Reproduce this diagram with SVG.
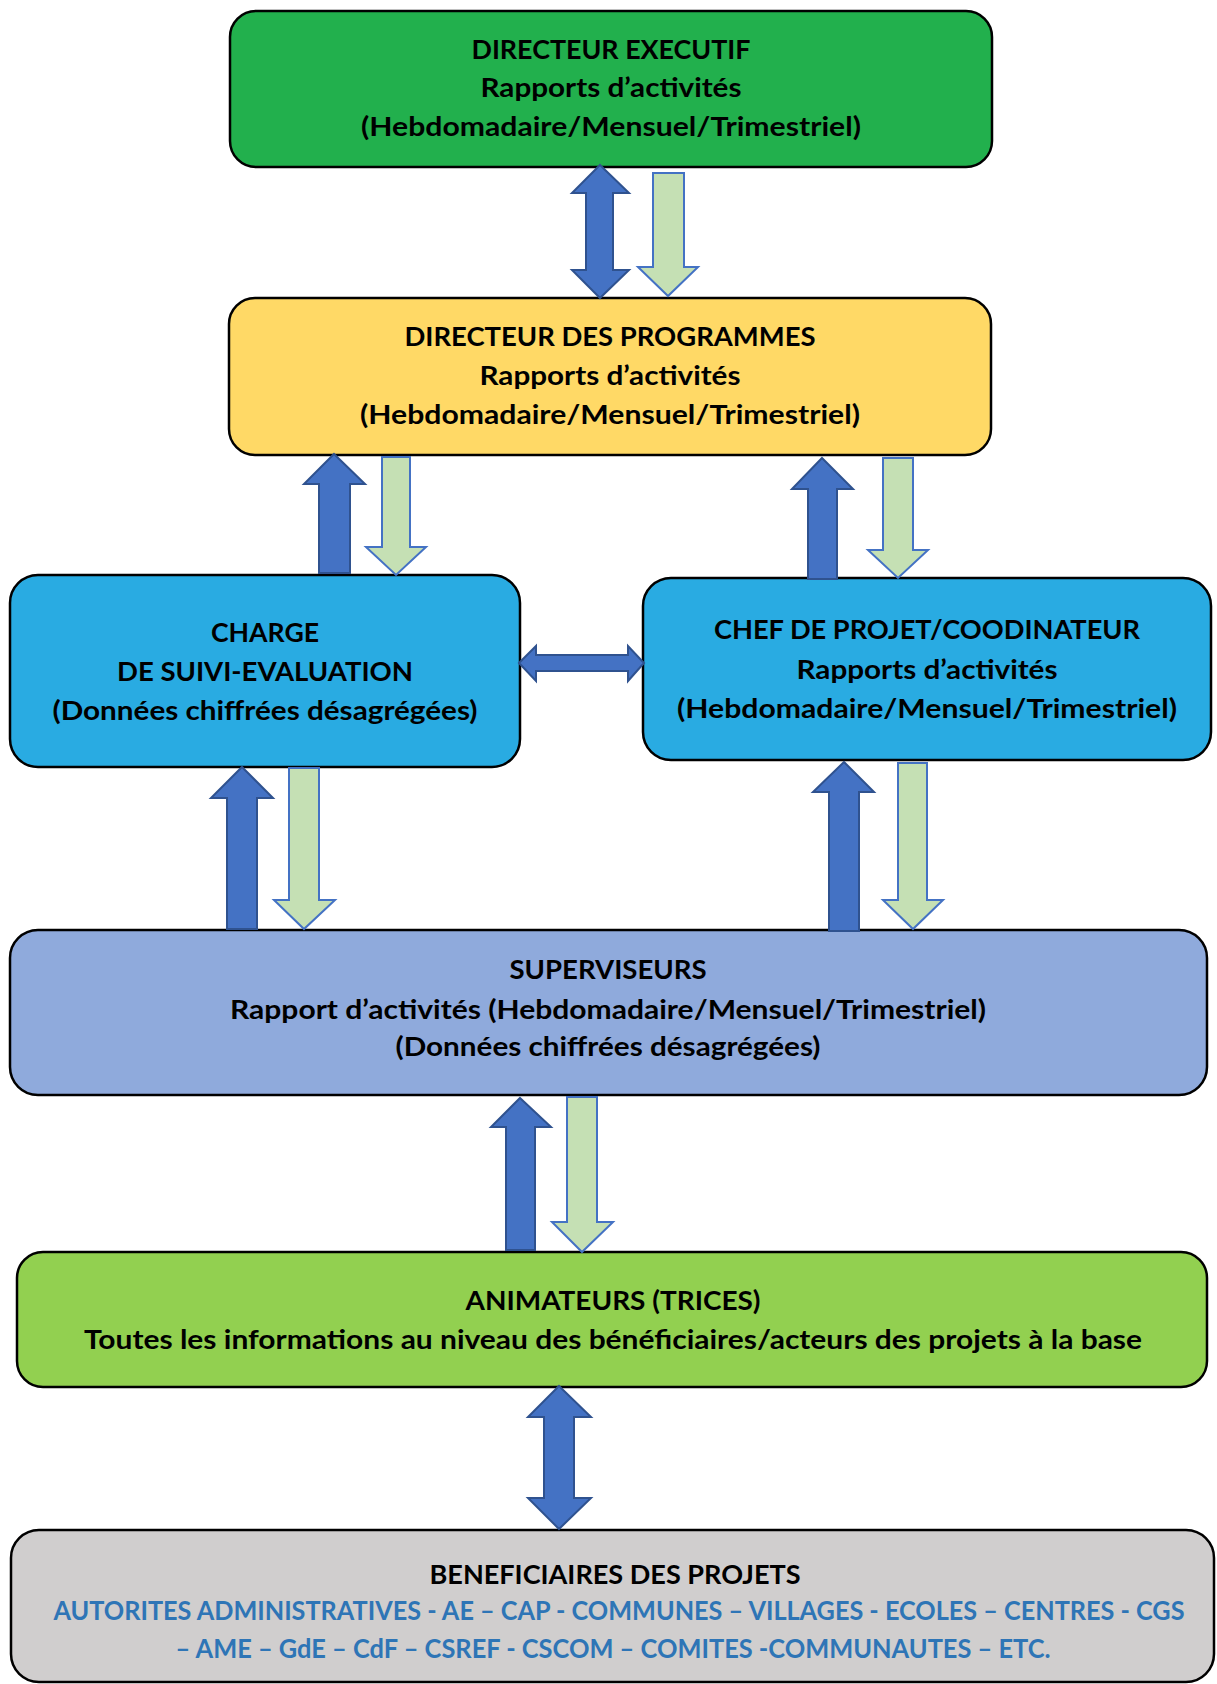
<svg xmlns="http://www.w3.org/2000/svg" width="1217" height="1684" viewBox="0 0 1217 1684">
<style>
.box{stroke:#000;stroke-width:2.5}
.t{font-family:Lato,"Open Sans","Liberation Sans",sans-serif;font-weight:bold;font-size:26.5px;fill:#000;text-anchor:middle}
.b{fill:#2E75B6}
.up{fill:#4472C4;stroke:#2F528F;stroke-width:2;stroke-linejoin:miter}
.dn{fill:#C5E0B4;stroke:#4472C4;stroke-width:2;stroke-linejoin:miter}
</style>
<rect width="1217" height="1684" fill="#fff"/>
<g id="directeur-executif">
<rect class="box" x="230" y="11" width="762" height="156" rx="26" fill="#22B04D"/>
<text class="t" x="611" y="59" textLength="279" lengthAdjust="spacingAndGlyphs">DIRECTEUR EXECUTIF</text>
<text class="t" x="611" y="97" textLength="261" lengthAdjust="spacingAndGlyphs">Rapports d’activités</text>
<text class="t" x="611" y="136" textLength="500" lengthAdjust="spacingAndGlyphs">(Hebdomadaire/Mensuel/Trimestriel)</text>
</g>
<g id="directeur-programmes">
<rect class="box" x="229" y="298" width="762" height="157" rx="26" fill="#FFD966"/>
<text class="t" x="610" y="346" textLength="411" lengthAdjust="spacingAndGlyphs">DIRECTEUR DES PROGRAMMES</text>
<text class="t" x="610" y="385" textLength="261" lengthAdjust="spacingAndGlyphs">Rapports d’activités</text>
<text class="t" x="610" y="424" textLength="500" lengthAdjust="spacingAndGlyphs">(Hebdomadaire/Mensuel/Trimestriel)</text>
</g>
<g id="charge-suivi-evaluation">
<rect class="box" x="10" y="575" width="510" height="192" rx="28" fill="#29ABE2"/>
<text class="t" x="265" y="642" textLength="108" lengthAdjust="spacingAndGlyphs">CHARGE</text>
<text class="t" x="265" y="681" textLength="296" lengthAdjust="spacingAndGlyphs">DE SUIVI-EVALUATION</text>
<text class="t" x="265" y="720" textLength="425" lengthAdjust="spacingAndGlyphs">(Données chiffrées désagrégées)</text>
</g>
<g id="chef-de-projet">
<rect class="box" x="643" y="578" width="568" height="182" rx="28" fill="#29ABE2"/>
<text class="t" x="927" y="639" textLength="426" lengthAdjust="spacingAndGlyphs">CHEF DE PROJET/COODINATEUR</text>
<text class="t" x="927" y="679" textLength="261" lengthAdjust="spacingAndGlyphs">Rapports d’activités</text>
<text class="t" x="927" y="718" textLength="500" lengthAdjust="spacingAndGlyphs">(Hebdomadaire/Mensuel/Trimestriel)</text>
</g>
<g id="superviseurs">
<rect class="box" x="10" y="930" width="1197" height="165" rx="28" fill="#8FAADC"/>
<text class="t" x="608" y="979" textLength="197" lengthAdjust="spacingAndGlyphs">SUPERVISEURS</text>
<text class="t" x="608" y="1019" textLength="756" lengthAdjust="spacingAndGlyphs">Rapport d’activités (Hebdomadaire/Mensuel/Trimestriel)</text>
<text class="t" x="608" y="1056" textLength="425" lengthAdjust="spacingAndGlyphs">(Données chiffrées désagrégées)</text>
</g>
<g id="animateurs">
<rect class="box" x="17" y="1252" width="1190" height="135" rx="26" fill="#92D050"/>
<text class="t" x="613" y="1310" textLength="295" lengthAdjust="spacingAndGlyphs">ANIMATEURS (TRICES)</text>
<text class="t" x="613" y="1349" textLength="1058" lengthAdjust="spacingAndGlyphs">Toutes les informations au niveau des bénéficiaires/acteurs des projets à la base</text>
</g>
<g id="beneficiaires">
<rect class="box" x="11" y="1530" width="1203" height="152" rx="28" fill="#D0CECE"/>
<text class="t" x="615" y="1584" textLength="371" lengthAdjust="spacingAndGlyphs">BENEFICIAIRES DES PROJETS</text>
<text class="t b" x="619" y="1620" textLength="1131" lengthAdjust="spacingAndGlyphs">AUTORITES ADMINISTRATIVES - AE – CAP - COMMUNES – VILLAGES - ECOLES – CENTRES - CGS</text>
<text class="t b" x="613" y="1658" textLength="875" lengthAdjust="spacingAndGlyphs">– AME – GdE – CdF – CSREF - CSCOM – COMITES -COMMUNAUTES – ETC.</text>
</g>
<g id="connectors">
<polygon class="up" points="600,165 629,193 613,193 613,270 629,270 600,298 572,270 586,270 586,193 572,193"/>
<polygon class="dn" points="653,173 684,173 684,267 698,267 668,296 638,267 653,267"/>
<polygon class="up" points="334,454 365,484 350,484 350,573 319,573 319,484 304,484"/>
<polygon class="dn" points="382,457 410,457 410,547 426,547 396,575 366,547 382,547"/>
<polygon class="up" points="822,458 853,489 837,489 837,579 808,579 808,489 792,489"/>
<polygon class="dn" points="883,458 913,458 913,550 928,550 898,578 868,550 883,550"/>
<polygon class="up" points="519,663 536,646 536,655 628,655 628,646 644,663 628,681 628,671 536,671 536,681"/>
<polygon class="up" points="242,767 273,798 257,798 257,929 227,929 227,798 211,798"/>
<polygon class="dn" points="289,768 319,768 319,900 335,900 304,929 274,900 289,900"/>
<polygon class="up" points="844,762 874,792 859,792 859,931 829,931 829,792 813,792"/>
<polygon class="dn" points="898,763 927,763 927,900 943,900 913,929 883,900 898,900"/>
<polygon class="up" points="520,1098 551,1127 535,1127 535,1250 506,1250 506,1127 491,1127"/>
<polygon class="dn" points="567,1097 597,1097 597,1222 613,1222 582,1252 552,1222 567,1222"/>
<polygon class="up" points="559,1386 591,1417 574,1417 574,1498 591,1498 559,1529 528,1498 544,1498 544,1417 528,1417"/>
</g>
</svg>
